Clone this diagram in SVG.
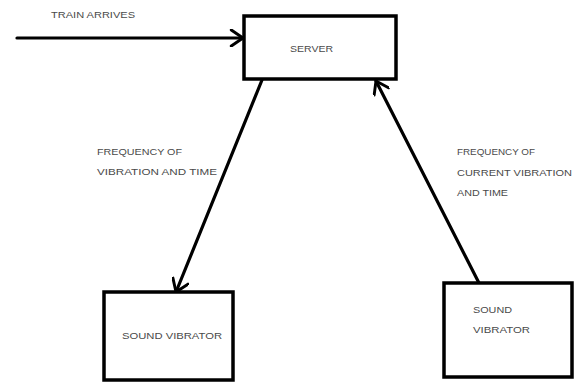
<svg xmlns="http://www.w3.org/2000/svg" width="578" height="382" viewBox="0 0 578 382">
<style>
.box{fill:#fff;stroke:#000;stroke-width:3.5}
.ln{fill:none;stroke:#000;stroke-width:3.2;stroke-linecap:round}
.t{font-family:"Liberation Sans",Arial,sans-serif;font-size:9.5px;fill:#4a4a4a}
</style>
<defs>
<marker id="ah" viewBox="0 0 12 12" refX="11" refY="6" markerWidth="5.5" markerHeight="5.5" orient="auto" markerUnits="strokeWidth">
<path d="M3,0.5 L11,6 L3,11.5" fill="none" stroke="#000" stroke-width="2" stroke-linecap="round" stroke-linejoin="round"/>
</marker>
</defs>
<rect width="578" height="382" fill="#fff"/>
<g id="connectors">
<line class="ln" x1="17" y1="38" x2="243" y2="38" marker-end="url(#ah)"/>
<line class="ln" x1="262" y1="80" x2="176" y2="292" marker-end="url(#ah)"/>
<line class="ln" x1="479" y1="283" x2="376" y2="81" marker-end="url(#ah)"/>
<text class="t" x="51" y="18" textLength="84" lengthAdjust="spacingAndGlyphs">TRAIN ARRIVES</text>
<text class="t" x="97" y="155" textLength="85" lengthAdjust="spacingAndGlyphs">FREQUENCY OF</text>
<text class="t" x="97" y="175" textLength="120" lengthAdjust="spacingAndGlyphs">VIBRATION AND TIME</text>
<text class="t" x="457" y="155" textLength="78" lengthAdjust="spacingAndGlyphs">FREQUENCY OF</text>
<text class="t" x="457" y="176" textLength="115" lengthAdjust="spacingAndGlyphs">CURRENT VIBRATION</text>
<text class="t" x="457" y="196" textLength="51" lengthAdjust="spacingAndGlyphs">AND TIME</text>
</g>
<g id="server">
<rect class="box" x="244" y="16" width="152" height="63"/>
<text class="t" x="290" y="52" textLength="43" lengthAdjust="spacingAndGlyphs">SERVER</text>
</g>
<g id="sound-vibrator-left">
<rect class="box" x="104" y="292" width="129" height="88"/>
<text class="t" x="122" y="339" textLength="100" lengthAdjust="spacingAndGlyphs">SOUND VIBRATOR</text>
</g>
<g id="sound-vibrator-right">
<rect class="box" x="444" y="283" width="128" height="94"/>
<text class="t" x="473" y="313" textLength="39" lengthAdjust="spacingAndGlyphs">SOUND</text>
<text class="t" x="473" y="333" textLength="57" lengthAdjust="spacingAndGlyphs">VIBRATOR</text>
</g>
</svg>
